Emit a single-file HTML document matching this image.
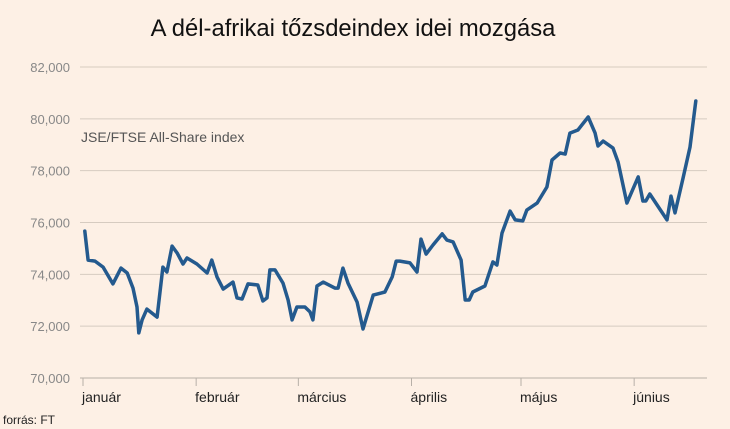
<!DOCTYPE html>
<html><head><meta charset="utf-8"><style>
html,body{margin:0;padding:0;background:#fdf0e5;}
svg{display:block;font-family:"Liberation Sans",sans-serif;}
</style></head><body>
<svg width="730" height="429" viewBox="0 0 730 429">
<rect width="730" height="429" fill="#fdf0e5"/>
<text x="353" y="36" text-anchor="middle" font-size="23.8" fill="#111">A dél-afrikai tőzsdeindex idei mozgása</text>
<g id="grid"></g>
<g id="xaxis"></g>
<text x="81" y="142" font-size="14" fill="#555">JSE/FTSE All-Share index</text>
<g id="series"></g>
<text x="3" y="424" font-size="12" fill="#222">forrás: FT</text>
</svg>
<script>
const yTicks=[70000,72000,74000,76000,78000,80000,82000];
const yTickLabels=["70,000","72,000","74,000","76,000","78,000","80,000","82,000"];
const monthDays=[0,31,59,90,120,151];
const monthLabels=["január","február","március","április","május","június"];
const days=[0.5,1.4,3.3,5.5,8.2,10.4,12.1,13.7,14.8,15.3,16.2,17.5,20.3,21.9,23.0,24.4,25.8,27.4,28.5,31.2,34.0,35.3,36.7,38.4,41.1,42.2,43.6,45.2,47.9,49.3,50.4,51.2,52.6,54.8,56.2,57.3,58.6,60.8,62.2,63.0,64.1,65.8,69.0,69.9,71.2,72.6,75.1,76.7,79.5,82.7,84.7,85.8,86.8,89.6,91.5,92.6,94.0,95.9,98.4,99.7,101.4,103.6,104.7,105.8,106.8,110.1,112.3,113.4,114.8,117.0,118.4,120.5,121.6,124.4,127.1,128.5,130.7,132.1,133.4,135.6,138.4,140.3,141.1,142.5,145.2,146.6,149.0,152.1,153.4,154.2,155.3,160.0,161.1,162.2,164.4,166.3,167.9];
const values=[75670,74550,74510,74280,73630,74240,74050,73470,72740,71740,72240,72660,72350,74280,74090,75090,74820,74400,74630,74400,74050,74550,73900,73430,73700,73090,73050,73630,73590,72970,73090,74170,74170,73660,73010,72240,72740,72740,72550,72240,73550,73700,73470,73470,74240,73660,72930,71890,73200,73320,73900,74510,74510,74440,74090,75360,74780,75130,75560,75320,75250,74550,73010,73010,73320,73550,74480,74360,75590,76440,76100,76060,76480,76750,77370,78410,78680,78640,79450,79570,80070,79450,78950,79140,78870,78330,76750,77760,76830,76830,77100,76100,77020,76370,77720,78910,80690];
const NS="http://www.w3.org/2000/svg";
function xS(d){return 83+d*3.65;}
function yS(v){return 378-(v-70000)/12000*311;}
function mk(t,a,p){const e=document.createElementNS(NS,t);for(const k in a)e.setAttribute(k,a[k]);p.appendChild(e);return e;}
const grid=document.getElementById('grid');
yTicks.forEach((v,i)=>{
  const l=mk('line',{x1:80,x2:707,y1:yS(v),y2:yS(v),stroke:i===0?'#b8b0a8':'#d6cbc0','stroke-width':1},grid);
  
  
  const t=mk('text',{x:70,y:yS(v)+5,'text-anchor':'end','font-size':13,fill:'#888'},grid);
  t.textContent=yTickLabels[i];
  
  
});
const xa=document.getElementById('xaxis');
monthDays.forEach((d,i)=>{
  const l=mk('line',{x1:xS(d),x2:xS(d),y1:378,y2:386,stroke:'#b8b0a8','stroke-width':1},xa);
  
  
  const t=mk('text',{x:xS(d)-1,y:402,'font-size':14,fill:'#222'},xa);
  t.textContent=monthLabels[i];
  
  
});
const s=document.getElementById('series');
const path=mk('polyline',{points:days.map((d,i)=>xS(d).toFixed(1)+','+yS(values[i]).toFixed(1)).join(' '),fill:'none',stroke:'#245a8e','stroke-width':3.5,'stroke-linejoin':'round','stroke-linecap':'round'},s);


</script>
</body></html>
